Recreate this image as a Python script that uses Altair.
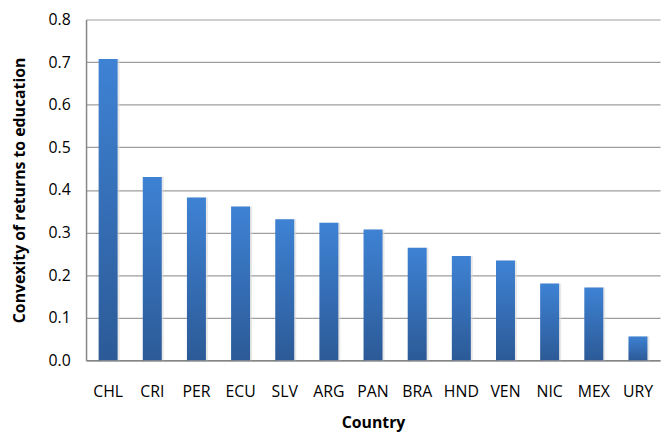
import altair as alt
import pandas as pd

countries = ["CHL", "CRI", "PER", "ECU", "SLV", "ARG", "PAN", "BRA", "HND", "VEN", "NIC", "MEX", "URY"]
values = [0.707, 0.430, 0.382, 0.361, 0.331, 0.323, 0.307, 0.264, 0.245, 0.234, 0.180, 0.171, 0.056]

df = pd.DataFrame({"Country": countries, "Convexity": values})

grad = alt.Gradient(
    gradient="linear",
    stops=[alt.GradientStop(color="#3E82D4", offset=0), alt.GradientStop(color="#2C5A97", offset=1)],
    x1=0, x2=0, y1=0, y2=1,
)

x_enc = alt.X("Country:N", sort=countries, title="Country",
              scale=alt.Scale(paddingInner=0.57, paddingOuter=0.285),
              axis=alt.Axis(labelAngle=0, ticks=False, domain=True, domainColor="#868686", domainWidth=1.5,
                            labelPadding=24, titlePadding=15, labelFontSize=16, titleFontSize=16,
                            labelFont="Open Sans", titleFont="Open Sans", labelColor="#000", titleColor="#000"))

shadow = alt.Chart(df).mark_bar(color="#d9d9d9", opacity=0.6, xOffset=2).encode(
    x=x_enc,
    y=alt.Y("Convexity:Q"),
)

bars = alt.Chart(df).mark_bar(color=grad).encode(
    x=x_enc,
    y=alt.Y("Convexity:Q", title="Convexity of returns to education",
            scale=alt.Scale(domain=[0, 0.8], nice=False),
            axis=alt.Axis(values=[0, 0.1, 0.2, 0.3, 0.4, 0.5, 0.6, 0.7, 0.8], format=".1f",
                          ticks=False, domainColor="#868686", domainWidth=1.5,
                          gridColor="#9E9E9E", gridWidth=1.2,
                          labelPadding=16, titlePadding=21, labelFontSize=16, titleFontSize=16,
                          labelFont="Open Sans", titleFont="Open Sans", labelColor="#000", titleColor="#000")),
)

chart = alt.layer(shadow, bars).properties(
    width=581, height=345,
    autosize=alt.AutoSizeParams(type="none"),
    padding={"left": 79, "top": 9, "right": 2, "bottom": 74},
).configure_view(stroke=None).configure_axis(labelFontWeight="normal", titleFontWeight="bold")

chart.save("out.html", embed_options={"renderer": "svg", "actions": False})
